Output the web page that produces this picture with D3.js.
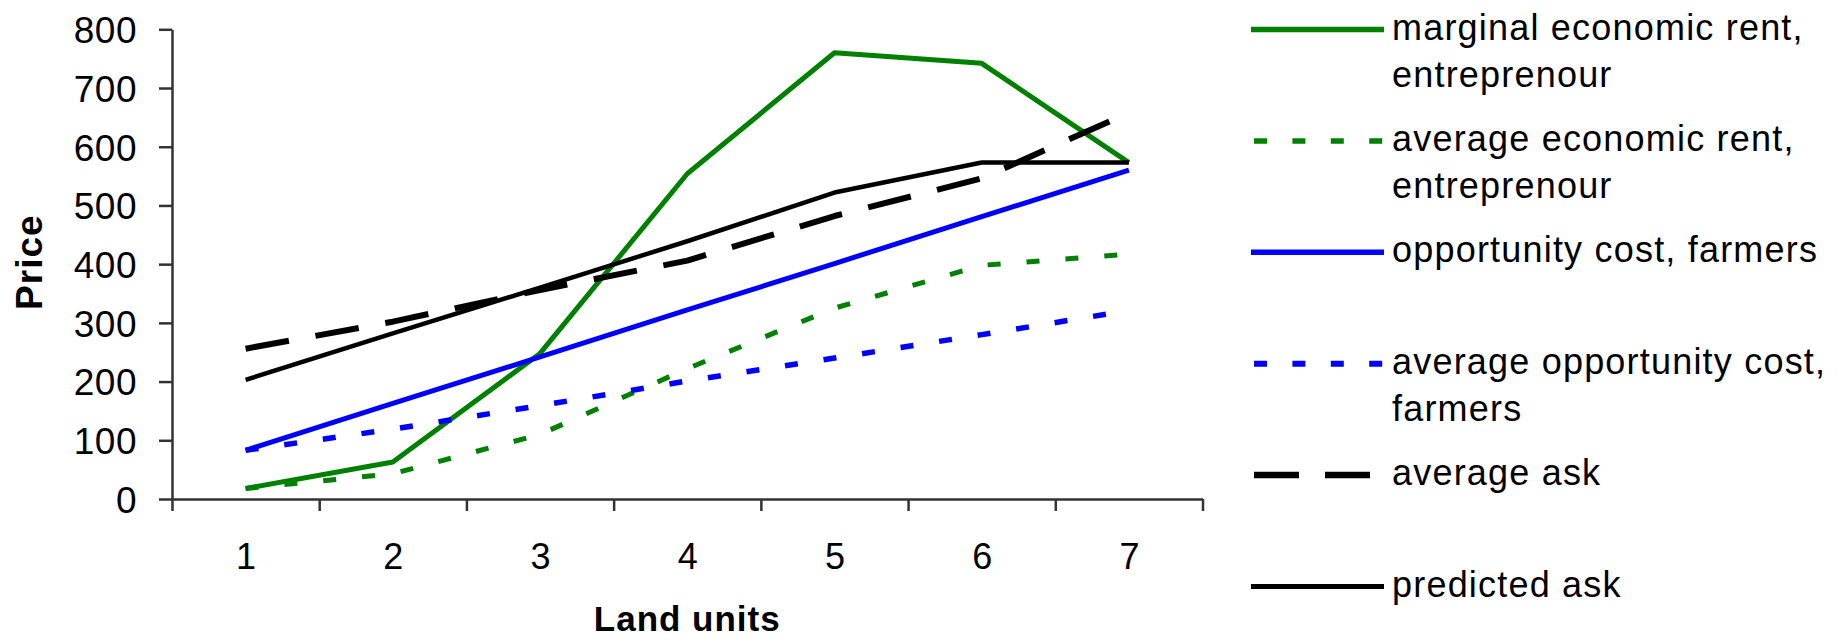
<!DOCTYPE html>
<html>
<head>
<meta charset="utf-8">
<script src="https://cdn.jsdelivr.net/npm/d3@7"></script>
<style>
  html, body { margin: 0; padding: 0; background: #fff; }
  svg text { font-family: "Liberation Sans", Arial, sans-serif; fill: #000; }
</style>
</head>
<body>
<svg id="chart" width="1838" height="640"></svg>
<script>
// Land units on the x axis, one price curve per series
const categories = [1, 2, 3, 4, 5, 6, 7];
const yTicks = [0, 100, 200, 300, 400, 500, 600, 700, 800];

const marginalRent = [18, 63, 248, 554, 760, 742, 573];
const averageRent = [18, 43, 110, 222, 325, 398, 417];
const opportunityCost = [83, 163, 242, 322, 401, 481, 560];
const averageOpportunityCost = [83, 119, 159, 201, 240, 280, 321];
const averageAsk = [256, 302, 356, 406, 482, 546, 658];
const predictedAsk = [203, 282, 360, 439, 522, 573, 573];

const seriesNames = [
  ["marginal economic rent,", "entreprenour"],
  ["average economic rent,", "entreprenour"],
  ["opportunity cost, farmers"],
  ["average opportunity cost,", "farmers"],
  ["average ask"],
  ["predicted ask"]
];

const series = [
  { values: marginalRent, color: "#008000", width: 5, dash: null },
  { values: averageRent, color: "#008000", width: 5, dash: "13,26" },
  { values: opportunityCost, color: "#0000ff", width: 5, dash: null },
  { values: averageOpportunityCost, color: "#0000ff", width: 5.5, dash: "13,26" },
  { values: averageAsk, color: "#000000", width: 6, dash: "44,27" },
  { values: predictedAsk, color: "#000000", width: 4.5, dash: null }
];

const svg = d3.select("#chart");
const plotLeft = 172, plotRight = 1202.5, plotTop = 29.3, plotBottom = 499;

// categories sit between tick marks, Excel-style
const x = d3.scaleLinear().domain([0.5, 7.5]).range([plotLeft, plotRight]);
const y = d3.scaleLinear().domain([0, 800]).range([plotBottom, plotTop]);

const axisColor = "#333";

// y axis
const yAxis = svg.append("g")
  .attr("transform", `translate(${plotLeft},0)`)
  .call(d3.axisLeft(y).tickValues(yTicks).tickSize(13).tickPadding(22).tickSizeOuter(0));
yAxis.select(".domain").attr("stroke", axisColor).attr("stroke-width", 2.5);
yAxis.selectAll(".tick line").attr("stroke", axisColor).attr("stroke-width", 2.5);
yAxis.selectAll(".tick text")
  .attr("font-size", 37).attr("letter-spacing", "0.5px").attr("dy", "0.36em")
  .style("font-family", '"Liberation Sans", Arial, sans-serif').attr("fill", "#000");

// x axis: tick marks on the category boundaries
const bounds = d3.range(0.5, 8, 1);
const xAxis = svg.append("g")
  .attr("transform", `translate(0,${plotBottom})`)
  .call(d3.axisBottom(x).tickValues(bounds).tickFormat("").tickSize(12).tickSizeOuter(0));
xAxis.select(".domain").attr("stroke", axisColor).attr("stroke-width", 2.5);
xAxis.selectAll(".tick line").attr("stroke", axisColor).attr("stroke-width", 2.5);

// x category labels, centred between the marks
const xLabels = svg.append("g")
  .attr("transform", `translate(0,${plotBottom})`)
  .call(d3.axisBottom(x).tickValues(categories).tickFormat(d3.format("d")).tickSize(0).tickPadding(0));
xLabels.select(".domain").remove();
xLabels.selectAll(".tick text")
  .attr("y", 70).attr("dy", 0)
  .attr("font-size", 36)
  .style("font-family", '"Liberation Sans", Arial, sans-serif').attr("fill", "#000");

// axis titles
svg.append("text")
  .attr("x", (plotLeft + plotRight) / 2).attr("y", 631)
  .attr("text-anchor", "middle")
  .attr("font-size", 35).attr("font-weight", "bold").attr("letter-spacing", "1px")
  .text("Land units");

svg.append("text")
  .attr("transform", `translate(42,${(plotTop + plotBottom) / 2 - 2}) rotate(-90)`)
  .attr("text-anchor", "middle")
  .attr("font-size", 37).attr("font-weight", "bold").attr("letter-spacing", "1px")
  .text("Price");

// series lines
const line = d3.line()
  .x((d, i) => x(categories[i]))
  .y(d => y(d));

series.forEach(s => {
  svg.append("path")
    .datum(s.values)
    .attr("d", line)
    .attr("fill", "none")
    .attr("stroke", s.color)
    .attr("stroke-width", s.width)
    .attr("stroke-linejoin", "round")
    .attr("stroke-linecap", "butt")
    .attr("stroke-dasharray", s.dash);
});

// legend
const legend = svg.append("g");
series.forEach((s, i) => {
  const ly = 29.5 + 111.4 * i;
  legend.append("line")
    .attr("x1", s.dash ? 1254 : 1251).attr("x2", 1384)
    .attr("y1", ly).attr("y2", ly)
    .attr("stroke", s.color)
    .attr("stroke-width", s.width + 0.5)
    .attr("stroke-dasharray", s.dash ? (s.dash === "44,27" ? "45,26" : "13,25.4") : null);
  const t = legend.append("text")
    .attr("x", 1392).attr("y", ly + 10)
    .attr("font-size", 36).attr("letter-spacing", "1.2px");
  seriesNames[i].forEach((txt, k) => {
    t.append("tspan").attr("x", 1392).attr("dy", k === 0 ? 0 : 47.5).text(txt);
  });
});
</script>
</body>
</html>
